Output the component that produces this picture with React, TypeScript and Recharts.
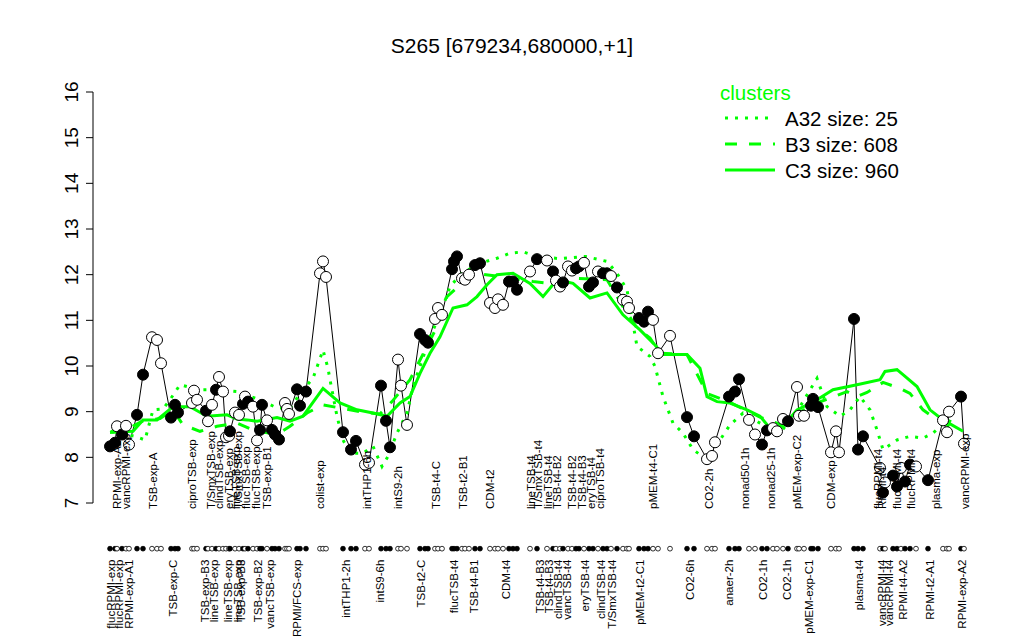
import { ComposedChart, Line, Scatter, XAxis, YAxis, ReferenceLine } from "recharts";

// probe positions (ordered along the region) and their expression values
const pointPos = [
  1, 2.25, 2.75, 4, 5, 5.75, 7.75, 9.25, 11.5, 12.75,
  13.75, 16.25, 17.25, 18, 21.5, 22, 22.75, 25, 25.5, 26.5,
  27.5, 28.25, 29.25, 30, 30.75, 31, 32.25, 33.25, 34.25, 34.75,
  35.5, 36.75, 37.75, 38.5, 39, 40.25, 41.5, 42.25, 43.25, 44.75,
  45.25, 45.75, 47.75, 48.5, 50, 53.5, 54.25, 55, 59.25, 61.25,
  62.5, 64.75, 65.75, 68.75, 70, 71, 73, 73.75, 75.25, 78.5,
  79.75, 80.5, 82.25, 83, 84, 86.5, 87, 87.75, 89, 89.75,
  90.75, 92.25, 93.5, 96, 97.25, 98, 99.25, 100.75, 101.75, 102.75,
  106, 107.75, 110.25, 111.75, 112.5, 113.5, 114.25, 115.5, 116.5, 117.5,
  118.25, 119.5, 120.75, 121.75, 123, 124.25, 125.25, 126.25, 127.75, 129.25,
  130.25, 130.75, 133.25, 134.5, 135.5, 136.75, 138, 141, 145.25, 147,
  150.25, 151.5, 152.25, 155.75, 157.25, 158.25, 160.75, 162.25, 164, 165.25,
  166.75, 167.75, 169.25, 170.5, 172.75, 173.25, 174.5, 176.25, 176.75, 178,
  181.25, 182.5, 183.25, 187, 188, 189.25, 193.5, 194.25, 194.75, 196.75,
  197.75, 198.75, 199.75, 201, 202.5, 205.5, 209.25, 210.25, 210.75, 213.75, 214.5,
];

const pointValues = [
  8.24, 8.32, 8.68, 8.5, 8.69, 8.28, 8.93, 9.81, 10.63, 10.57,
  10.06, 8.87, 9.15, 8.98, 9.19, 9.46, 9.26, 9.02, 8.79, 9.15,
  9.48, 9.76, 9.44, 8.44, 8.47, 8.57, 8.98, 8.93, 9.17, 9.33,
  9.22, 9.11, 8.37, 8.6, 9.15, 8.81, 8.6, 8.5, 8.39, 9.19,
  9.06, 8.95, 9.49, 9.13, 9.44, 12.03, 12.29, 11.95, 8.55, 8.17,
  8.36, 7.84, 7.88, 9.57, 8.8, 8.22, 10.14, 9.57, 8.71, 10.7,
  10.57, 10.51, 11.03, 11.27, 11.12, 12.12, 12.29, 12.4, 11.92, 11.89,
  12.0, 12.21, 12.25, 11.38, 11.27, 11.46, 11.34, 11.85, 11.85, 11.67,
  12.07, 12.34, 12.31, 12.07, 11.87, 11.74, 11.83, 12.18, 12.09, 12.14,
  12.18, 12.26, 11.74, 11.83, 12.07, 12.03, 12.03, 11.97, 11.72, 11.45,
  11.41, 11.27, 11.05, 10.97, 11.19, 11.01, 10.28, 10.66, 8.88, 8.46,
  7.96, 8.03, 8.33, 9.33, 9.44, 9.71, 8.82, 8.5, 8.28, 8.59,
  8.64, 8.57, 8.84, 8.79, 9.54, 8.91, 8.91, 9.13, 9.28, 9.1,
  8.11, 8.57, 8.11, 11.03, 8.17, 8.46, 7.77, 7.23, 7.45, 7.6,
  7.36, 7.77, 7.47, 7.84, 7.8, 7.5, 8.81, 8.55, 9.0, 9.33, 8.3,
];

// 1 = filled marker, 0 = open marker
const pointFilled = [
  1, 1, 0, 1, 0, 0, 1, 1, 0, 0,
  0, 1, 1, 1, 0, 0, 0, 1, 0, 0,
  1, 0, 0, 0, 0, 1, 0, 0, 1, 0,
  1, 0, 0, 1, 1, 0, 1, 1, 1, 0,
  0, 0, 1, 1, 1, 0, 0, 0, 1, 1,
  1, 0, 0, 1, 1, 1, 0, 0, 0, 1,
  1, 1, 0, 0, 0, 1, 1, 1, 0, 0,
  0, 1, 1, 0, 0, 0, 0, 1, 1, 1,
  0, 1, 0, 1, 0, 0, 1, 0, 0, 1,
  1, 0, 1, 1, 0, 1, 1, 0, 1, 0,
  0, 0, 1, 1, 1, 0, 0, 0, 1, 1,
  0, 0, 0, 1, 1, 1, 0, 0, 1, 1,
  0, 0, 0, 1, 0, 0, 0, 1, 1, 1,
  0, 0, 0, 1, 1, 1, 0, 1, 0, 1,
  1, 0, 1, 1, 0, 1, 0, 0, 0, 1, 0,
];

const clusterA32Pos = [
  1.25, 7.25, 9.75, 11.75, 14.25, 16, 18.5, 23.5, 27.75, 32.75,
  38.5, 42.75, 46, 49.25, 51.75, 54.25, 55.5, 56, 57.75, 59.25,
  61, 64.25, 66.75, 69, 70.5, 72.75, 75.25, 76.75, 78.5, 81,
  83.5, 86, 89, 93.5, 97.75, 101, 104.25, 107.75, 113.5, 119.75,
  125.25, 127.75, 130.25, 132.75, 136, 137.25, 139.25, 141.75, 144.25, 146.75,
  150.25, 153.5, 156, 159.25, 163.5, 168.5, 173.5, 177.75, 180.25, 183.5,
  186, 188.5, 191, 192.75, 194.25, 197.75, 201, 204.25, 206.75, 210.25, 212.75,
];
const clusterA32Values = [
  8.57, 8.46, 8.38, 9.04, 9.06, 9.26, 9.59, 9.48, 9.48, 9.44,
  9.26, 9.08, 9.08, 9.48, 9.73, 10.35, 9.95, 9.7, 8.9, 8.38,
  8.09, 8.09, 8.24, 7.8, 8.02, 8.53, 8.97, 9.55, 9.99, 10.64,
  11.12, 11.74, 12.03, 12.25, 12.36, 12.47, 12.5, 12.4, 12.35, 12.4,
  12.29, 12.03, 11.67, 10.43, 10.21, 9.99, 9.33, 8.75, 8.53, 8.17,
  7.95, 8.38, 8.71, 8.97, 8.75, 8.53, 9.11, 9.73, 9.11, 8.9,
  9.04, 9.33, 9.04, 8.6, 8.17, 8.38, 8.46, 8.42, 8.53, 8.82, 8.71,
];

const clusterB3Pos = [
  1, 4.25, 9.25, 13.5, 16.75, 19.25, 23.5, 27.75, 32.75, 36.75,
  42.75, 46, 50.25, 54.25, 58.5, 63.5, 68.5, 71.5, 76, 80.25,
  82.75, 85.25, 89, 91.75, 97.75, 106.75, 111, 116.75, 125.25, 129.25,
  132.75, 136, 138.5, 145.25, 150.25, 156, 163.5, 169.25, 173.5, 177.75,
  185.25, 187.75, 190.25, 194.25, 198.5, 201, 204.25, 207.75, 212.75,
];
const clusterB3Values = [
  8.55, 8.57, 8.8, 8.85, 9.04, 8.71, 8.57, 8.68, 8.75, 8.6,
  8.5, 8.68, 8.97, 9.15, 9.08, 9.0, 8.95, 9.22, 9.7, 10.43,
  10.86, 11.52, 11.81, 12.03, 11.97, 11.85, 11.81, 11.92, 11.89, 11.3,
  10.83, 10.61, 10.28, 10.25, 9.4, 9.2, 8.88, 8.7, 9.0, 9.19,
  9.44, 9.33, 9.42, 9.64, 9.51, 9.4, 9.04, 8.82, 8.6,
];

const clusterC3Pos = [
  1, 6.75, 9.25, 12.75, 16.75, 21, 25.25, 30.25, 32.75, 35.25,
  37.75, 42.75, 46, 49.25, 54.25, 58.5, 62.75, 66.75, 70.25, 73.5,
  76, 78.5, 81, 83.5, 86.75, 90.25, 92.75, 95.25, 97.75, 101.75,
  106, 109.25, 112.75, 116.75, 121, 125.25, 129.25, 133.5, 137.25, 139.25,
  145.25, 148.5, 150.25, 152.75, 156, 160.25, 163.5, 166, 169.25, 172.75,
  177.75, 181.75, 187.75, 193.5, 194.75, 197.75, 199.25, 202.75, 206, 209.25, 214.25,
];
const clusterC3Values = [
  8.55, 8.57, 8.82, 8.82, 9.11, 9.11, 8.9, 8.93, 8.84, 8.82,
  8.79, 8.87, 8.79, 8.9, 9.51, 9.19, 9.04, 8.97, 8.9, 9.19,
  9.33, 9.84, 10.28, 10.64, 11.27, 11.34, 11.52, 11.78, 12.0, 12.03,
  11.81, 11.52, 11.89, 11.81, 11.49, 11.6, 11.12, 10.79, 10.46, 10.25,
  10.25, 9.95, 9.33, 9.22, 9.19, 9.04, 8.9, 8.64, 8.68, 9.04,
  9.26, 9.48, 9.59, 9.7, 9.88, 9.92, 9.81, 9.55, 9.04, 8.82, 8.57,
];

const topLabelPos = [
  2.75, 5, 11.75, 21.5, 26.25, 28.25, 30.75, 32.5, 33, 35,
  37.5, 40.25, 53.5, 65.25, 73, 82.5, 89.25, 96, 106.25, 108,
  110.5, 112.75, 116.5, 119, 121.25, 123.5, 136.75, 150.75, 159.75, 166.25,
  172.75, 181.25, 193, 194, 197.75, 201.25, 207.5, 214.75,
];
const topLabels = [
  "RPMI-exp-A2", "vancRPMI-exp", "TSB-exp-A", "ciproTSB-exp", "T/SmxTSB-exp",
  "clindTSB-exp", "eryTSB-exp", "lineTSB-exp", "T/SmxTSB-exp", "flucTSB-exp",
  "flucTSB-exp", "TSB-exp-B1", "colist-exp", "intTHP1-6h", "intS9-2h",
  "TSB-t4-C", "TSB-t2-B1", "CDM-t2", "lineTSB-t4", "T/SmxTSB-t4",
  "lineTSB-t4", "TSB-t4-B2", "TSB-t4-B2", "TSB-t4-B3", "eryTSB-t4",
  "ciproTSB-t4", "pMEM-t4-C1", "CO2-2h", "nonad50-1h", "nonad25-1h",
  "pMEM-exp-C2", "CDM-exp", "flucRPMI-t4", "RPMI-t4", "flucRPMI-t4",
  "flucRPMI-t4", "plasma-exp", "vancRPMI-exp",
];

const bottomLabelPos = [
  1.25, 3.25, 5.75, 16.75, 24.75, 27, 30.5, 33, 33.75, 38,
  41, 47.75, 60, 68.5, 78.75, 87, 92, 100, 108.5, 110.75,
  113, 115.25, 119.75, 123.75, 126.5, 133.5, 146, 155.75, 164.25, 170.25,
  175.75, 188.25, 194, 195.75, 199.25, 206, 214,
];
const bottomLabels = [
  "flucRPMI-exp", "flucRPMI-exp", "RPMI-exp-A1", "TSB-exp-C", "TSB-exp-B3",
  "lineTSB-exp", "lineTSB-exp", "lineTSB-exp", "TSB-exp-B3", "TSB-exp-B2",
  "vancTSB-exp", "RPMI/FCS-exp", "intTHP1-2h", "intS9-6h", "TSB-t2-C",
  "flucTSB-t4", "TSB-t4-B1", "CDM-t4", "TSB-t4-B3", "TSB-t4-B3",
  "clindTSB-t4", "vancTSB-t4", "eryTSB-t4", "clindTSB-t4", "T/SmxTSB-t4",
  "pMEM-t2-C1", "CO2-6h", "anaer-2h", "CO2-1h", "CO2-1h",
  "pMEM-exp-C1", "plasma-t4", "vancRPMI-t4", "vancRPMI-t4", "RPMI-t4-A2",
  "RPMI-t2-A1", "RPMI-exp-A2",
];

const yTicks = [7, 8, 9, 10, 11, 12, 13, 14, 15, 16];

// rows below the data, in y units of the same axis
const TOP_LABEL_Y = 6.87;
const DOT_ROW_Y = 6.0;
const BOTTOM_LABEL_Y = 5.76;
const X_MIN = -3.25;

const GREEN = "#00ff00";
const FONT = "'Liberation Sans', Arial, Helvetica, sans-serif";

const points = pointPos.map((x, i) => ({ x, y: pointValues[i], filled: pointFilled[i] === 1 }));
const dotRow = pointPos.map((x, i) => ({ x, y: DOT_ROW_Y, filled: pointFilled[i] === 1 }));
const topRow = topLabelPos.map((x, i) => ({ x, y: TOP_LABEL_Y, label: topLabels[i] }));
const bottomRow = bottomLabelPos.map((x, i) => ({ x, y: BOTTOM_LABEL_Y, label: bottomLabels[i] }));
const toSeries = (pos: number[], vals: number[]) => pos.map((x, i) => ({ x, y: vals[i] }));

const YTick = ({ x, y, payload }: any) => {
  const tx = x - 6;
  return (
    <text
      x={tx}
      y={y}
      transform={`rotate(-90, ${tx}, ${y})`}
      textAnchor="middle"
      fontSize={19}
      fontFamily={FONT}
      fill="#000"
    >
      {payload.value}
    </text>
  );
};

const MarkerDot = (props: any) => {
  const { cx, cy, payload, index } = props;
  return (
    <circle
      key={`pt-${index}`}
      cx={cx}
      cy={cy}
      r={5.5}
      fill={payload.filled ? "#000" : "#fff"}
      stroke="#000"
      strokeWidth={1}
    />
  );
};

const RowDot = (props: any) => (
  <circle
    cx={props.cx}
    cy={props.cy}
    r={2.4}
    fill={props.payload.filled ? "#000" : "#fff"}
    stroke="#000"
    strokeWidth={0.8}
  />
);

const labelShape = (anchor: "start" | "end") => (props: any) => (
  <text
    x={props.cx}
    y={props.cy}
    transform={`rotate(-90, ${props.cx}, ${props.cy})`}
    textAnchor={anchor}
    dominantBaseline="central"
    fontSize={11.5}
    fontFamily={FONT}
    fill="#000"
  >
    {props.payload.label}
  </text>
);

function ClusterLegend() {
  const rows = [
    { name: "A32 size: 25", dash: "3 7" },
    { name: "B3 size: 608", dash: "12 12" },
    { name: "C3 size: 960", dash: undefined },
  ];
  return (
    <svg width={240} height={110} style={{ position: "absolute", left: 712, top: 72 }}>
      <text x={0} y={12} dominantBaseline="central" fontSize={20.5} fontFamily={FONT} fill={GREEN}>
        clusters
      </text>
      {rows.map((r, i) => (
        <g key={r.name}>
          <line
            x1={5}
            x2={55}
            y1={38 + i * 26}
            y2={38 + i * 26}
            stroke={GREEN}
            strokeWidth={3}
            strokeDasharray={r.dash}
          />
          <text x={65} y={38 + i * 26} dominantBaseline="central" fontSize={20.5} fontFamily={FONT} fill="#000">
            {r.name}
          </text>
        </g>
      ))}
    </svg>
  );
}

export default function App() {
  return (
    <div style={{ position: "relative", width: 1016, height: 632, fontFamily: FONT, background: "#fff" }}>
      <div
        style={{
          position: "absolute",
          left: 0,
          width: 1008,
          top: 26,
          textAlign: "center",
          fontSize: 21,
          color: "#000",
        }}
      >
        S265 [679234,680000,+1]
      </div>
      <ComposedChart width={1016} height={632} margin={{ top: 84, right: 50, bottom: 0, left: 0 }}>
        <XAxis type="number" dataKey="x" domain={[X_MIN, 217]} hide allowDataOverflow />
        <YAxis
          type="number"
          dataKey="y"
          domain={[4, 16]}
          ticks={yTicks}
          width={85}
          axisLine={false}
          tickLine={{ stroke: "#000" }}
          tickSize={7}
          tick={<YTick />}
          allowDataOverflow
        />
        <ReferenceLine
          segment={[
            { x: X_MIN, y: 7 },
            { x: X_MIN, y: 16 },
          ]}
          stroke="#000"
          strokeWidth={1}
          ifOverflow="visible"
        />
        <Line
          data={points}
          dataKey="y"
          type="linear"
          stroke="#000"
          strokeWidth={1}
          dot={MarkerDot}
          activeDot={false}
          isAnimationActive={false}
        />
        <Line
          data={toSeries(clusterA32Pos, clusterA32Values)}
          dataKey="y"
          type="linear"
          stroke={GREEN}
          strokeWidth={3}
          strokeDasharray="3 7"
          dot={false}
          activeDot={false}
          isAnimationActive={false}
        />
        <Line
          data={toSeries(clusterB3Pos, clusterB3Values)}
          dataKey="y"
          type="linear"
          stroke={GREEN}
          strokeWidth={3}
          strokeDasharray="12 12"
          dot={false}
          activeDot={false}
          isAnimationActive={false}
        />
        <Line
          data={toSeries(clusterC3Pos, clusterC3Values)}
          dataKey="y"
          type="linear"
          stroke={GREEN}
          strokeWidth={3}
          dot={false}
          activeDot={false}
          isAnimationActive={false}
        />
        <Scatter data={dotRow} dataKey="y" shape={RowDot} isAnimationActive={false} />
        <Scatter data={topRow} dataKey="y" shape={labelShape("start")} isAnimationActive={false} />
        <Scatter data={bottomRow} dataKey="y" shape={labelShape("end")} isAnimationActive={false} />
      </ComposedChart>
      <ClusterLegend />
    </div>
  );
}
